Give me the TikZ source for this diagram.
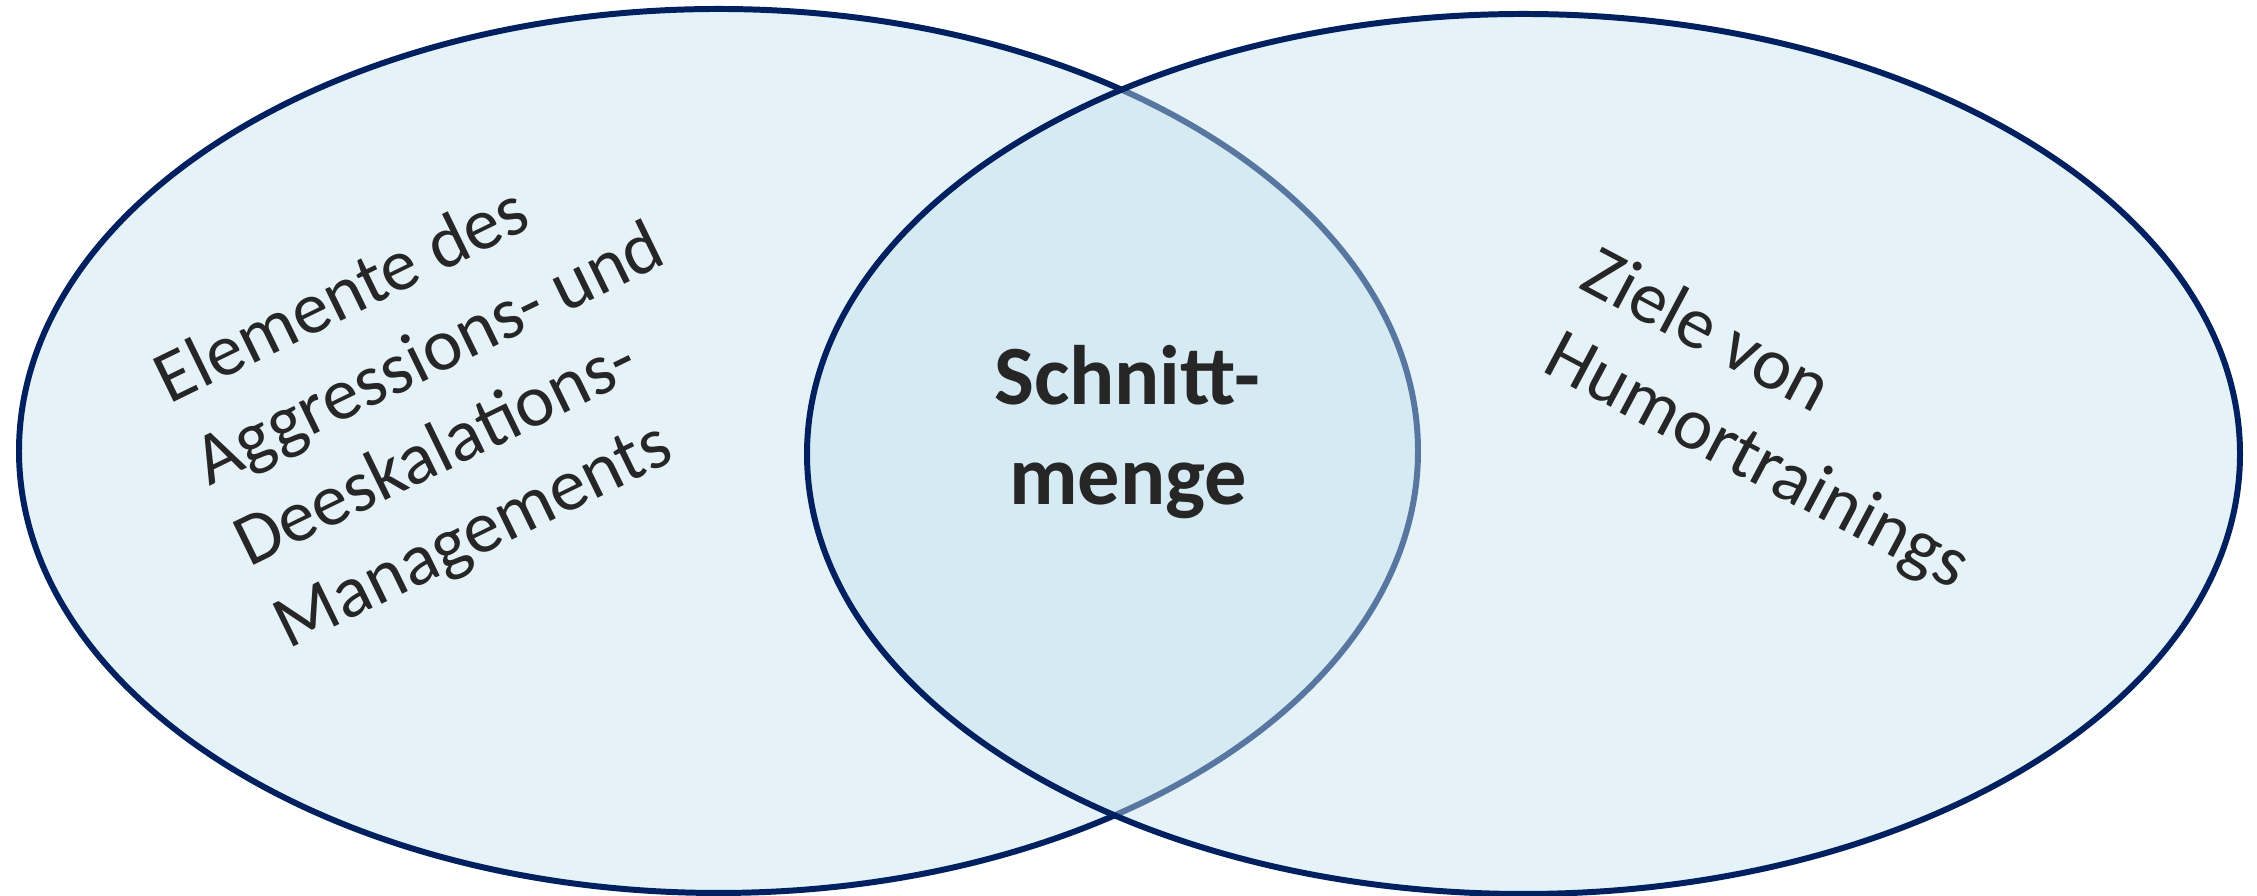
\documentclass[tikz,border=0pt]{standalone}
\usepackage{fontspec}
\setmainfont{Carlito}
\definecolor{navy}{RGB}{0,32,96}
\definecolor{setfill}{RGB}{229,242,248}
\definecolor{overfill}{RGB}{197,226,239}
\definecolor{ink}{RGB}{38,38,38}
\tikzset{
  setline/.style={draw=navy, line width=1.7pt},
  label/.style={text=ink, inner sep=0pt},
  lefttext/.style={label, font=\fontsize{21}{25.8}\selectfont, rotate=26, anchor=base west},
  righttext/.style={label, font=\fontsize{21}{25.8}\selectfont, rotate=-28, anchor=base west},
  centertext/.style={label, font=\fontsize{24}{28.5}\selectfont\bfseries, anchor=base},
}
\begin{document}
\begin{tikzpicture}
  \useasboundingbox (0,0) rectangle (22.57,8.96);
  % left set
  \path[setline, fill=setfill] (7.185,4.45) ellipse [x radius=6.995, y radius=4.42];
  % right set, translucent so the overlap darkens
  \path[setline, fill=overfill, fill opacity=0.45] (15.235,4.42) ellipse [x radius=7.165, y radius=4.40];

  % left label, one line per node, lines start flush along the tilted margin
  \node[lefttext] (left1) at (1.69,4.91) {Elemente des};
  \node[lefttext] (left2) at (2.087,4.095) {Aggressions- und};
  \node[lefttext] (left3) at (2.484,3.28) {Deeskalations-};
  \node[lefttext] (left4) at (2.881,2.465) {Managements};

  % right label
  \node[righttext] (right1) at (15.77,6.09) {Ziele von};
  \node[righttext] (right2) at (15.40,5.26) {Humortrainings};

  % overlap label
  \node[centertext] (cut1) at (11.27,4.91) {Schnitt-};
  \node[centertext] (cut2) at (11.28,3.91) {menge};
\end{tikzpicture}
\end{document}
